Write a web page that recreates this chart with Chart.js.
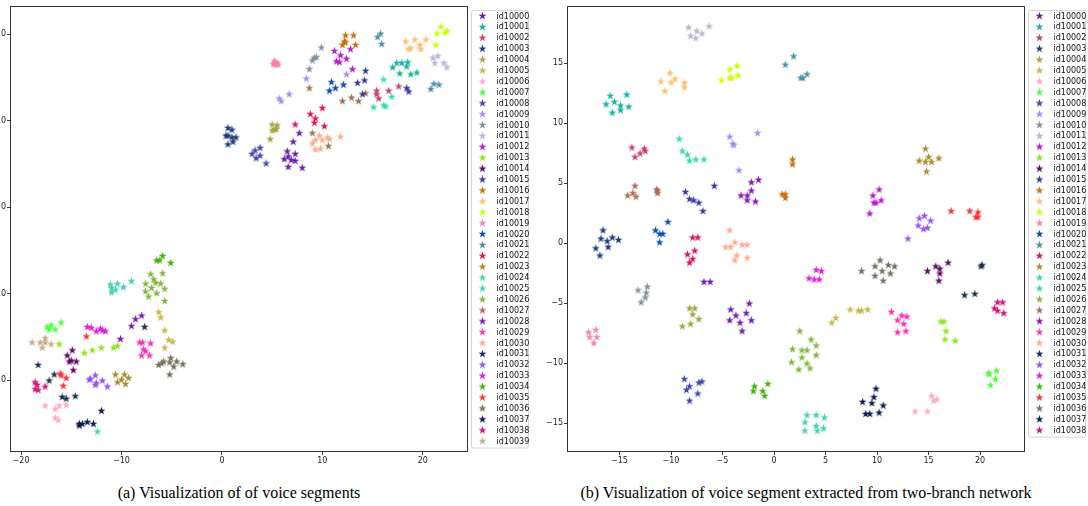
<!DOCTYPE html>
<html>
<head>
<meta charset="utf-8">
<script src="https://cdn.jsdelivr.net/npm/chart.js@4.4.1/dist/chart.umd.min.js"></script>
<style>
  body { margin: 0; width: 1088px; height: 506px; background: #fff; overflow: hidden; position: relative; }
  canvas { position: absolute; top: 0; }
  #chart-a { left: -29px; }
  #chart-b { left: 530px; }
  .cap { position: absolute; top: 484px; line-height: 18px; font-family: "Liberation Serif", serif; font-size: 16px; color: #000; white-space: nowrap; transform: translateX(-50%); }
</style>
</head>
<body>
<canvas id="chart-a" width="559" height="476"></canvas>
<canvas id="chart-b" width="558" height="476"></canvas>
<div class="cap" style="left:239px">(a) Visualization of of voice segments</div>
<div class="cap" style="left:806px">(b) Visualization of voice segment extracted from two-branch network</div>
<script>
const ids = ['id10000','id10001','id10002','id10003','id10004','id10005','id10006','id10007','id10008','id10009',
  'id10010','id10011','id10012','id10013','id10014','id10015','id10016','id10017','id10018','id10019',
  'id10020','id10021','id10022','id10023','id10024','id10025','id10026','id10027','id10028','id10029',
  'id10030','id10031','id10032','id10033','id10034','id10035','id10036','id10037','id10038','id10039'];

const colors = ['#6a1bb0','#17b3a0','#c8406a','#1c3d7a','#a3a340','#c8b84a','#ffa8cc','#4cff3a','#3f48a8','#a08ef0',
  '#7f929e','#bcb4d8','#b41ccc','#8ee61c','#5e0a62','#3c34a8','#c8700f','#ffbe6a','#c8ff00','#f484b4',
  '#0d4eb4','#4891a8','#e0144e','#a88c2e','#36dcaa','#44d2b4','#84b43c','#a86e54','#8a16b4','#ff2eb4',
  '#ffac8c','#1e2e50','#9454f4','#e01ce4','#44b00e','#ff3030','#74705e','#0e1a52','#d4127a','#c4aa8a'];

// (a) voice segments
const aX = [
  [7.7,7.1,6.5,7.3,6.2,6.6,6.9,7.3,6.6,8.0],
  [17.0,17.4,17.9,18.5,18.4,17.7,18.8,19.4],
  [15.4,15.4,15.6,16.6,17.6],
  [0.6,1.0,0.4,0.6,1.0,1.4,0.6,1.1],
  [5.0,5.5,5.4,5.0,5.3,4.8],
  [-6.3,-6.1,-5.7,-5.7,-5.3,-4.9],
  [-17.6,-16.6,-16.2,-15.5,-16.6,-16.3],
  [-17.4,-17.2,-17.0,-16.6,-16.0],
  [3.0,3.3,3.8,3.4,3.8,4.4],
  [5.7,5.9,6.7,8.4,12.4],
  [9.9,9.4,9.2,9.0,8.7],
  [21.0,21.5,21.2,22.1,22.4],
  [11.2,11.8,12.8,11.4,11.7,12.4,13.0],
  [-16.2,-13.7,-12.9,-12.0,-10.8,-10.4],
  [-14.9,-15.4,-15.2,-15.0,-14.5,-14.8],
  [14.3,14.2,13.5,14.0,18.4,18.6],
  [12.3,13.1,12.2,12.3,12.0,13.3],
  [18.3,19.2,19.7,20.3,18.6,18.8,19.8],
  [21.8,21.4,22.2,22.4,21.3],
  [5.3,5.1,5.6,5.3,5.2,5.5],
  [10.9,10.7,11.3,12.1],
  [15.8,15.5,15.9,20.8,21.1,21.6],
  [10.0,8.8,9.3,9.2,10.2,7.3],
  [-10.6,-9.7,-10.4,-10.0,-9.3,-9.6],
  [16.1,16.9,15.1,16.1,16.3,-12.4],
  [-11.1,-11.0,-11.0,-10.4,-10.6,-9.8,-9.0],
  [-7.1,-5.9,-6.8,-6.6,-7.6,-6.1,-7.0,-7.6,-7.3,-6.5,-5.7,-5.7],
  [9.0,10.6,8.7,12.0,12.9,13.6,14.3],
  [-8.0,-8.6,-9.0,-10.1],
  [-8.2,-7.9,-7.1,-7.8,-7.6,-8.0,-7.2],
  [9.0,9.3,9.7,10.0,10.5,10.7,11.8,9.3,9.8],
  [-7.7,-18.3,-16.7,-17.2,-15.9,-15.5,-14.6],
  [-13.1,-13.2,-12.6,-12.5,-11.9,-11.4,-12.6],
  [-13.4,-13.0,-12.5,-12.1,-11.9,-11.6],
  [-6.5,-6.2,-5.9,-5.1],
  [-13.5,-16.1,-16.0,-15.5,-15.8],
  [-6.3,-6.0,-5.8,-5.2,-5.1,-4.8,-4.5,-3.9,-5.2],
  [-14.2,-13.9,-13.4,-12.8,-14.2,-12.0],
  [-18.6,-18.4,-18.6,-18.3,-17.6],
  [-18.9,-18.1,-17.6,-17.6,-17.9,-17.0]
];
const aY = [
  [8.6,7.6,6.5,6.2,5.6,5.9,5.5,5.4,4.7,4.6],
  [16.2,16.7,16.7,16.8,16.3,15.5,15.4,15.6],
  [13.5,13.1,12.6,13.5,14.0],
  [9.2,9.0,8.3,8.3,8.1,8.1,7.3,7.6],
  [9.6,9.5,9.1,8.9,9.0,7.9],
  [-12.1,-12.7,-14.2,-16.2,-15.3,-15.5],
  [-22.9,-23.3,-22.9,-22.8,-24.3,-24.6],
  [-13.8,-14.1,-13.6,-14.1,-13.3],
  [6.2,6.6,6.9,5.7,6.0,5.1],
  [12.6,12.3,13.1,14.9,15.4],
  [18.5,17.4,17.3,17.0,16.0],
  [17.3,17.5,16.7,16.7,16.2],
  [18.1,17.6,18.3,16.9,16.8,17.2,16.0],
  [-15.8,-16.8,-16.5,-16.2,-16.2,-16.0],
  [-16.5,-17.1,-17.8,-17.7,-17.8,-18.8],
  [15.8,14.7,14.4,13.1,13.8,13.4],
  [19.9,19.9,19.2,19.1,18.8,18.8],
  [19.2,19.4,18.8,19.4,18.3,18.4,18.3],
  [20.9,20.1,20.2,20.4,18.8],
  [16.8,16.6,16.5,16.5,16.9,16.7],
  [14.5,13.5,13.8,14.2],
  [20.1,19.7,18.9,13.7,14.3,14.2],
  [11.5,10.8,10.3,9.8,9.4,9.6],
  [-19.3,-19.3,-20.2,-19.9,-19.7,-20.4],
  [14.8,12.8,11.6,11.8,11.7,-25.9],
  [-8.9,-9.3,-9.8,-8.8,-9.5,-9.2,-8.5],
  [-7.7,-7.6,-8.3,-8.7,-8.8,-8.8,-9.3,-9.7,-10.3,-9.9,-9.4,-10.8],
  [8.6,7.1,13.8,12.3,12.7,12.3,13.2],
  [-12.5,-12.9,-13.7,-15.2],
  [-15.6,-15.6,-15.7,-16.4,-16.6,-17.1,-17.1],
  [7.4,7.8,8.3,7.8,8.1,7.9,8.2,6.7,6.8],
  [-13.8,-18.2,-19.3,-20.0,-21.9,-22.1,-21.8],
  [-19.8,-19.9,-19.4,-20.3,-20.0,-20.7,-20.5],
  [-13.8,-13.9,-14.3,-14.0,-14.2,-14.3],
  [-6.1,-6.1,-5.6,-6.4],
  [-14.9,-19.2,-19.4,-19.7,-20.6],
  [-18.2,-18.0,-17.8,-17.9,-17.4,-18.4,-17.8,-18.1,-19.3],
  [-25.2,-25.0,-24.8,-25.0,-25.0,-23.5],
  [-20.2,-20.5,-21.0,-21.1,-20.7],
  [-15.6,-15.6,-15.1,-15.6,-16.2,-15.8]
];

// (b) two-branch network embedding (id10000..id10038)
const bX = [
  [-6.8,-6.2,-4.2,-2.4,-3.7,-4.3,-3.3,-2.7,-2.2,-3.1],
  [-16.3,-15.9,-15.7,-15.5,-14.9,-14.9,-14.3,-14.1],
  [-13.8,-13.5,-13.0,-12.6,-12.5],
  [-16.6,-16.8,-16.2,-15.7,-15.1,-17.3,-16.1,-16.9],
  [-8.2,-7.7,-7.9,-7.3,-8.1,-8.9],
  [5.6,6.0,7.4,8.2,8.5,9.1],
  [15.3,15.5,15.8,13.7,14.9],
  [20.8,20.9,21.6,21.5,21.0],
  [-8.7,-8.2,-8.5,-7.0,-7.3,-7.4,-8.2],
  [-4.3,-4.0,-3.9,-1.6,-3.4],
  [-13.2,-12.3,-12.4,-12.5,-12.9],
  [-8.3,-8.1,-7.5,-7.6,-7.0,-6.3],
  [10.2,9.6,10.4,9.7,9.9,9.3],
  [16.2,16.5,16.7,16.6,17.6],
  [14.9,15.7,16.1,16.1,16.0,16.9],
  [-8.6,-8.2,-7.8,-7.3,-6.9,-5.8],
  [1.8,1.8,0.8,1.1,1.1],
  [-11.0,-10.1,-10.0,-9.6,-10.6,-8.7,-8.7],
  [-5.1,-4.3,-3.6,-4.3,-4.1,-3.5],
  [-18.0,-17.3,-17.9,-17.2,-17.5],
  [-11.5,-11.1,-10.8,-10.3,-11.1],
  [1.1,1.9,2.6,2.8,3.2],
  [-7.9,-7.4,-8.4,-7.9,-8.2,-7.7],
  [14.7,14.1,14.7,15.0,15.3,16.0,14.8],
  [-9.2,-8.9,-8.4,-8.2,-7.6,-6.8],
  [3.2,4.1,4.9,3.0,4.1,4.8,3.0,4.2],
  [2.5,1.8,1.7,2.7,3.2,2.7,2.4,3.2,3.5,3.6,4.1,4.1],
  [-14.2,-13.7,-13.5,-13.4,-11.4,-11.3,-11.3],
  [-2.2,-1.5,-3.2,-2.6,-2.2,-2.6,-1.8],
  [11.4,12.4,12.9,12.0,12.6,12.0,12.8],
  [-4.3,-4.7,-4.2,-3.8,-3.1,-2.6,-3.6,-3.8,-2.6],
  [18.5,19.5,20.2,20.1],
  [14.1,14.6,15.2,14.0,14.5,14.9,13.0],
  [4.1,4.6,3.4,3.9,4.4],
  [-1.9,-2.0,-1.1,-0.9,-0.6],
  [17.2,19.0,19.8,19.6,19.8],
  [8.5,9.8,10.3,10.5,11.1,11.7,11.3,9.8,10.6],
  [9.9,9.7,8.6,9.5,10.6,10.2,8.9,9.3],
  [21.7,22.2,21.4,21.7,22.3]
];
const bY = [
  [-3.2,-3.2,-5.5,-5.0,-6.0,-6.4,-6.6,-5.8,-6.4,-7.3],
  [11.6,12.3,10.9,11.8,11.5,11.1,12.4,11.4],
  [8.0,7.2,7.5,7.9,7.7],
  [1.1,0.4,0.2,0.5,0.3,-0.4,-0.3,-1.0],
  [-5.4,-5.4,-5.9,-6.3,-6.7,-6.9],
  [-6.6,-6.2,-5.5,-5.6,-5.6,-5.5],
  [-12.7,-13.1,-13.0,-14.0,-14.0],
  [-10.8,-10.9,-10.6,-11.3,-11.8],
  [-11.3,-11.9,-12.2,-11.5,-11.6,-12.5,-13.1],
  [8.9,8.3,8.2,9.2,6.1],
  [-3.9,-3.6,-4.1,-4.5,-4.9],
  [18.0,17.3,17.7,17.1,17.5,18.1],
  [4.5,4.0,3.6,3.4,3.4,2.5],
  [-6.5,-6.5,-7.3,-8.0,-8.1],
  [-2.3,-1.9,-2.1,-2.5,-3.1,-1.6],
  [4.3,3.7,3.6,3.4,2.7,4.8],
  [7.0,6.6,4.1,4.1,3.8],
  [13.5,14.2,13.4,13.7,12.7,13.4,13.0],
  [13.6,14.5,14.8,13.8,13.8,14.0],
  [-7.4,-7.2,-7.8,-7.8,-8.3],
  [1.1,0.8,0.8,1.8,0.1],
  [14.9,15.6,13.8,13.8,14.1],
  [0.5,0.5,-0.9,-1.3,-1.6,-0.6],
  [7.9,6.9,6.8,7.2,6.8,7.1,6.0],
  [8.7,7.7,7.4,6.9,7.0,7.0],
  [-14.3,-14.3,-14.5,-14.9,-15.2,-15.4,-15.6,-15.6],
  [-7.3,-8.8,-9.9,-8.9,-8.9,-9.5,-10.5,-10.0,-10.4,-8.0,-8.5,-9.3],
  [4.0,4.2,4.8,3.9,4.5,4.2,4.4],
  [5.1,5.3,4.0,4.0,4.4,3.6,3.5],
  [-5.7,-6.0,-6.1,-6.4,-6.7,-7.4,-7.3],
  [1.1,-0.3,-0.3,0.1,-0.1,-0.1,-1.0,-1.4,-1.2],
  [-4.3,-4.2,-1.8,-1.9],
  [2.1,2.3,1.9,1.5,1.2,1.3,0.4],
  [-2.2,-2.3,-2.9,-3.0,-3.0],
  [-11.9,-12.3,-12.3,-12.7,-11.7],
  [2.7,2.7,2.6,2.2,2.2],
  [-2.3,-1.9,-1.4,-2.3,-1.8,-1.9,-2.5,-2.7,-3.1],
  [-12.1,-12.8,-13.2,-13.3,-13.5,-14.1,-14.2,-14.2],
  [-4.9,-4.9,-5.4,-5.6,-5.8]
];

const aXTicks = [-20, -10, 0, 10, 20];
const aYTicks = [-20, -10, 0, 10, 20];
const bXTicks = [-15, -10, -5, 0, 5, 10, 15, 20];
const bYTicks = [-15, -10, -5, 0, 5, 10, 15];

// matplotlib-style filled '*' marker
function starImage(color) {
    const c = document.createElement('canvas');
    c.width = 9; c.height = 9;
    const g = c.getContext('2d');
    g.beginPath();
    for (let k = 0; k < 10; k++) {
        const r = k % 2 ? 1.65 : 4.2;
        const a = -Math.PI / 2 + k * Math.PI / 5;
        g.lineTo(4.5 + r * Math.cos(a), 5 + r * Math.sin(a));
    }
    g.closePath();
    g.fillStyle = color;
    g.fill();
    return c;
}
const stars = colors.map(starImage);

// frame around the plot + boxed legend on the right
function frameLegend(count) {
    return {
        id: 'frameLegend',
        afterDraw(chart) {
            const { ctx, chartArea: a } = chart;
            ctx.save();
            ctx.strokeStyle = '#333';
            ctx.lineWidth = 1;
            ctx.strokeRect(Math.round(a.left) - 0.5, Math.round(a.top) + 0.5,
                Math.round(a.right - a.left) + 1, Math.round(a.bottom - a.top));

            const rowH = 10.9;
            const bx = Math.round(a.right) + 4.5, by = 10.5;
            const bw = 57, bh = count * rowH + 1.5;
            ctx.strokeStyle = '#d6d6d6';
            ctx.beginPath();
            ctx.roundRect(bx, by, bw, bh, 2);
            ctx.stroke();

            ctx.font = '8px "DejaVu Sans"';
            ctx.fillStyle = '#111';
            ctx.textBaseline = 'middle';
            for (let i = 0; i < count; i++) {
                const y = 16 + i * rowH;
                ctx.drawImage(stars[i], bx + 11 - 4.5, y - 5);
                ctx.fillText(ids[i], bx + 25, y + 0.5);
            }
            ctx.restore();
        }
    };
}

function axis(min, max, ticks, fit) {
    return {
        type: 'linear',
        min: min,
        max: max,
        afterBuildTicks: s => { s.ticks = ticks.map(v => ({ value: v })); },
        afterFit: fit,
        border: { display: false },
        grid: { drawOnChartArea: false, drawTicks: true, tickLength: 4, color: '#333' },
        ticks: {
            font: { family: 'DejaVu Sans', size: 8 },
            color: '#222',
            padding: 1,
            maxRotation: 0,
            autoSkip: false,
            callback: v => (v < 0 ? '\u2212' + (-v) : '' + v)
        }
    };
}

function makeChart(canvasId, X, Y, xr, yr, xt, yt, yWidth, padRight) {
    const n = X.length;
    const datasets = [];
    for (let i = 0; i < n; i++) {
        datasets.push({
            label: ids[i],
            data: X[i].map((x, k) => ({ x: x, y: Y[i][k] })),
            pointStyle: stars[i],
            pointRadius: 4,
            backgroundColor: colors[i],
            borderColor: colors[i]
        });
    }
    return new Chart(document.getElementById(canvasId), {
        type: 'scatter',
        data: { datasets: datasets },
        options: {
            responsive: false,
            animation: false,
            devicePixelRatio: 1,
            layout: { padding: { top: 6, right: padRight, left: 0, bottom: 0 } },
            plugins: { legend: { display: false }, tooltip: { enabled: false } },
            scales: {
                x: axis(xr[0], xr[1], xt, s => { s.height = 25; }),
                y: axis(yr[0], yr[1], yt, s => { s.width = yWidth; })
            }
        },
        plugins: [frameLegend(n)]
    });
}

makeChart('chart-a', aX, aY, [-21.0, 24.4], [-28.2, 23.24], aXTicks, aYTicks, 40, 63);
makeChart('chart-b', bX, bY, [-20.0, 24.27], [-17.33, 19.75], bXTicks, bYTicks, 38, 64);
</script>
</body>
</html>
